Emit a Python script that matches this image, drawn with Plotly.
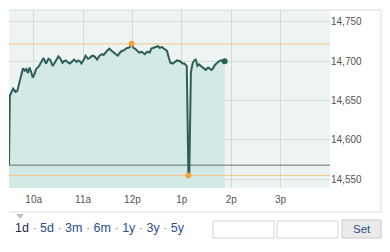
import plotly.graph_objects as go

DAY = "2013-05-07 "
times = ["09:30", "09:31", "09:35", "09:38", "09:40", "09:43", "09:47", "09:49", "09:51", "09:53",
         "09:55", "09:57", "09:59", "10:01", "10:03", "10:06", "10:08", "10:10", "10:12", "10:15",
         "10:18", "10:20", "10:23", "10:25", "10:27", "10:30", "10:32", "10:35", "10:37", "10:39",
         "10:42", "10:44", "10:47", "10:49", "10:52", "10:54", "10:56", "10:58", "11:01", "11:03",
         "11:06", "11:08", "11:11", "11:14", "11:17", "11:20", "11:23", "11:25", "11:29", "11:32",
         "11:35", "11:37", "11:40", "11:42", "11:45", "11:47", "11:50", "11:52", "11:55", "11:57",
         "11:59", "12:01", "12:03", "12:06", "12:08", "12:11", "12:13", "12:15", "12:18", "12:21",
         "12:23", "12:26", "12:28", "12:31", "12:33", "12:36", "12:38", "12:42", "12:44", "12:46",
         "12:49", "12:52", "12:54", "12:58", "13:01", "13:03", "13:06", "13:08", "13:09", "13:11",
         "13:13", "13:15", "13:17", "13:19", "13:21", "13:23", "13:25", "13:27", "13:29", "13:32",
         "13:34", "13:36", "13:38", "13:40", "13:43", "13:45", "13:47", "13:50", "13:52"]
values = [14568, 14656, 14665, 14661, 14662, 14675, 14691, 14688, 14690, 14685,
          14692, 14686, 14679, 14684, 14690, 14693, 14697, 14699, 14704, 14697,
          14703, 14702, 14694, 14697, 14701, 14706, 14704, 14698, 14700, 14701,
          14698, 14697, 14700, 14702, 14699, 14701, 14700, 14697, 14702, 14707,
          14703, 14704, 14707, 14706, 14702, 14707, 14709, 14708, 14713, 14716,
          14713, 14711, 14708, 14707, 14711, 14713, 14714, 14716, 14717, 14718,
          14722, 14717, 14716, 14713, 14711, 14712, 14711, 14709, 14712, 14711,
          14716, 14717, 14718, 14719, 14717, 14718, 14716, 14713, 14705, 14698,
          14697, 14699, 14701, 14700, 14697, 14697, 14694, 14555, 14555, 14686,
          14697, 14701, 14702, 14694, 14696, 14694, 14692, 14691, 14689, 14692,
          14690, 14689, 14691, 14695, 14698, 14699, 14701, 14700, 14700]
prev_close = 14568

x_range = [DAY + "09:30", DAY + "16:00"]
y_range = [14539, 14765]
x_tickvals = ["10:00", "11:00", "12:00", "13:00", "14:00", "15:00"]
x_ticktext = ["10a", "11a", "12p", "1p", "2p", "3p"]
y_tickvals = [14550, 14600, 14650, 14700, 14750]

xs = [DAY + t for t in times]
hi = max(values)
lo = min(values)
i_hi = values.index(hi)
i_lo = values.index(lo)

LINE = "#2e5e5c"
FILL = "#d3e9e6"
ORANGE = "#f2a23a"
ORANGE_LINE = "#f3c590"

fig = go.Figure()
fig.add_trace(go.Scatter(x=xs, y=values, mode="lines", line=dict(width=0, color=LINE),
                         fill="tozeroy", fillcolor=FILL, hoverinfo="skip"))
for val, col in [(prev_close, "#6b6f6e"), (hi, ORANGE_LINE), (lo, ORANGE_LINE)]:
    fig.add_trace(go.Scatter(x=x_range, y=[val, val], mode="lines",
                             line=dict(width=1, color=col), hoverinfo="skip"))
fig.add_trace(go.Scatter(x=xs, y=values, mode="lines", line=dict(width=2, color=LINE)))
fig.add_trace(go.Scatter(x=[xs[i_hi], xs[i_lo]], y=[hi, lo], mode="markers",
                         marker=dict(size=6, color=ORANGE)))
fig.add_trace(go.Scatter(x=[xs[-1]], y=[values[-1]], mode="markers",
                         marker=dict(size=6, color=LINE)))

fig.update_layout(
    width=390, height=252,
    margin=dict(l=9, r=60, t=10, b=64),
    paper_bgcolor="white", plot_bgcolor="#eef4f1",
    showlegend=False,
    font=dict(family="Liberation Sans, Arial, sans-serif", color="#555"),
    xaxis=dict(type="date", range=x_range, tickvals=[DAY + t for t in x_tickvals],
               ticktext=x_ticktext, showgrid=True, gridcolor="#d3dbd8", gridwidth=1,
               zeroline=False, showline=False, ticks="", ticklabelstandoff=4,
               tickfont=dict(size=10, color="#555")),
    yaxis=dict(range=y_range, side="right", tickvals=y_tickvals, tickformat=",",
               showgrid=True, gridcolor="#d3dbd8", gridwidth=1, zeroline=False,
               showline=False, ticks="", tickfont=dict(size=10, color="#555")),
)

# outer frame: top, right, bottom
box_r = (381 - 9) / 321
box_b = -(212 - 188) / 178
for x0, y0, x1, y1 in [(0, 1, box_r, 1), (box_r, 1, box_r, box_b), (0, box_b, box_r, box_b)]:
    fig.add_shape(type="line", xref="paper", yref="paper", x0=x0, y0=y0, x1=x1, y1=y1,
                  line=dict(color="#dcdcdc", width=1))

# small selector triangle
fig.add_shape(type="path", xref="paper", yref="paper",
              path="M %f %f L %f %f L %f %f Z" % ((16 - 9) / 321, -(214 - 188) / 178,
                                                 (24 - 9) / 321, -(214 - 188) / 178,
                                                 (20 - 9) / 321, -(219 - 188) / 178),
              fillcolor="#b8c4cc", line=dict(width=0))

periods = ["1d", "5d", "3m", "6m", "1y", "3y", "5y"]
sep = " <span style='color:#888'>·</span> "
txt = "<span style='color:#1c2b4a'>%s</span>" % periods[0] + sep + sep.join(
    "<span style='color:#2b4f8c'>%s</span>" % p for p in periods[1:])
fig.add_annotation(xref="paper", yref="paper", x=(13 - 9) / 321, y=-(228 - 188) / 178,
                   xanchor="left", yanchor="middle", text=txt, showarrow=False,
                   font=dict(size=12.5, family="Liberation Sans, Arial, sans-serif"))

# input boxes and Set button
def px_box(x0, y0, x1, y1, **kw):
    fig.add_shape(type="rect", xref="paper", yref="paper",
                  x0=(x0 - 9) / 321, x1=(x1 - 9) / 321,
                  y0=-(y0 - 188) / 178, y1=-(y1 - 188) / 178, **kw)

px_box(213, 221, 274, 238, line=dict(color="#d4d4d4", width=1), fillcolor="white")
px_box(277, 221, 338, 238, line=dict(color="#d4d4d4", width=1), fillcolor="white")
px_box(342, 220, 381, 238, line=dict(color="#c8c8c8", width=1), fillcolor="#eaeaea")
fig.add_annotation(xref="paper", yref="paper", x=(361.5 - 9) / 321, y=-(229 - 188) / 178,
                   text="Set", showarrow=False, xanchor="center", yanchor="middle",
                   font=dict(size=11.5, color="#2b4f8c", family="Liberation Sans, Arial, sans-serif"))

fig.write_html("out.html")
